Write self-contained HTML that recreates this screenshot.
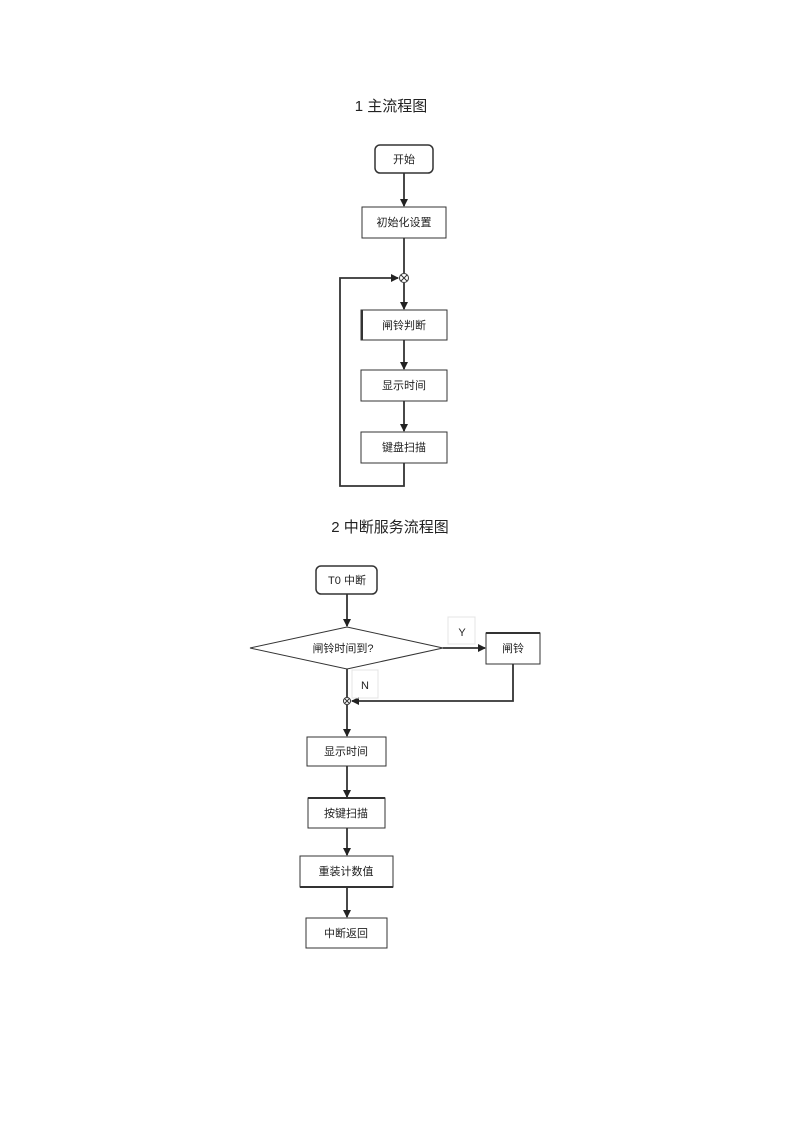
<!DOCTYPE html>
<html><head><meta charset="utf-8"><style>
html,body{margin:0;padding:0;background:#fff;}
svg{display:block;}
text{font-family:"Liberation Sans","Noto Sans CJK SC",sans-serif;fill:#222;}
</style></head><body>
<svg width="800" height="1132" viewBox="0 0 800 1132" xmlns="http://www.w3.org/2000/svg">
<defs>
<marker id="a" markerWidth="8" markerHeight="8" refX="7" refY="4" orient="auto" markerUnits="userSpaceOnUse">
<path d="M0,0 L8,4 L0,8 z" fill="#222"/></marker>
</defs>
<g stroke="#333" stroke-width="1.8" fill="none">
<!-- chart 1 -->
<rect x="375" y="145" width="58" height="28" rx="5" fill="#fff" stroke-width="1.5"/>
<line x1="404" y1="173" x2="404" y2="206" marker-end="url(#a)"/>
<rect x="362" y="207" width="84" height="31" fill="#fff" stroke-width="1"/>
<line x1="404" y1="238" x2="404" y2="273"/>
<circle cx="404" cy="278" r="4.5" fill="#fff" stroke-width="1"/>
<line x1="401" y1="275" x2="407" y2="281" stroke-width="1"/><line x1="407" y1="275" x2="401" y2="281" stroke-width="1"/>
<line x1="404" y1="283" x2="404" y2="309" marker-end="url(#a)"/>
<rect x="361" y="310" width="86" height="30" fill="#fff" stroke-width="1"/>
<line x1="362" y1="310" x2="362" y2="340" stroke-width="2"/>
<line x1="404" y1="340" x2="404" y2="369" marker-end="url(#a)"/>
<rect x="361" y="370" width="86" height="31" fill="#fff" stroke-width="1"/>
<line x1="404" y1="401" x2="404" y2="431" marker-end="url(#a)"/>
<rect x="361" y="432" width="86" height="31" fill="#fff" stroke-width="1"/>
<polyline points="404,463 404,486 340,486 340,278 398,278" marker-end="url(#a)"/>
<!-- chart 2 -->
<rect x="316" y="566" width="61" height="28" rx="5" fill="#fff" stroke-width="1.5"/>
<line x1="347" y1="594" x2="347" y2="626" marker-end="url(#a)"/>
<polygon points="250,648 347,627 443,648 347,669" fill="#fff" stroke-width="1"/>
<line x1="443" y1="648" x2="485" y2="648" marker-end="url(#a)"/>
<rect x="486" y="633" width="54" height="31" fill="#fff" stroke-width="1"/>
<line x1="486" y1="633" x2="540" y2="633" stroke-width="2"/>
<polyline points="513,664 513,701 352,701" marker-end="url(#a)"/>
<line x1="347" y1="669" x2="347" y2="697"/>
<circle cx="347" cy="701" r="3.5" fill="#fff" stroke-width="1"/>
<line x1="345" y1="699" x2="349" y2="703" stroke-width="1"/><line x1="349" y1="699" x2="345" y2="703" stroke-width="1"/>
<line x1="347" y1="705" x2="347" y2="736" marker-end="url(#a)"/>
<rect x="307" y="737" width="79" height="29" fill="#fff" stroke-width="1"/>
<line x1="347" y1="766" x2="347" y2="797" marker-end="url(#a)"/>
<rect x="308" y="798" width="77" height="30" fill="#fff" stroke-width="1"/>
<line x1="308" y1="798" x2="385" y2="798" stroke-width="2"/>
<line x1="347" y1="828" x2="347" y2="855" marker-end="url(#a)"/>
<rect x="300" y="856" width="93" height="31" fill="#fff" stroke-width="1"/>
<line x1="300" y1="887" x2="393" y2="887" stroke-width="2"/>
<line x1="347" y1="887" x2="347" y2="917" marker-end="url(#a)"/>
<rect x="306" y="918" width="81" height="30" fill="#fff" stroke-width="1"/>
</g>
<g stroke="#e4e4e4" stroke-width="1" fill="none">
<rect x="448" y="617" width="27" height="27"/>
<rect x="352" y="670" width="26" height="28"/>
</g>
<g font-size="11" text-anchor="middle">
<text x="391" y="111" font-size="15">1 主流程图</text>
<text x="404" y="163">开始</text>
<text x="404" y="226">初始化设置</text>
<text x="404" y="329">闸铃判断</text>
<text x="404" y="389">显示时间</text>
<text x="404" y="451">键盘扫描</text>
<text x="390" y="532" font-size="15">2 中断服务流程图</text>
<text x="347" y="584">T0 中断</text>
<text x="343" y="652">闸铃时间到?</text>
<text x="462" y="636">Y</text>
<text x="513" y="652">闸铃</text>
<text x="365" y="689">N</text>
<text x="346" y="755">显示时间</text>
<text x="346" y="817">按键扫描</text>
<text x="346" y="875">重装计数值</text>
<text x="346" y="937">中断返回</text>
</g>
</svg>
</body></html>
